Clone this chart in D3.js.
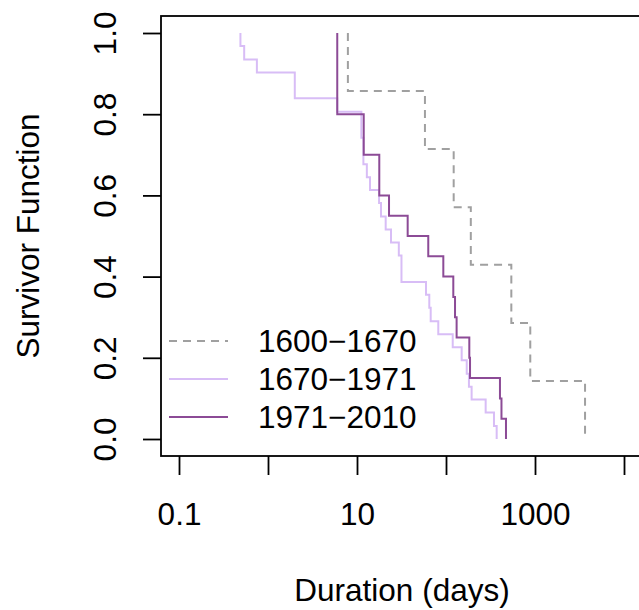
<!DOCTYPE html>
<html>
<head>
<meta charset="utf-8">
<script src="https://cdn.jsdelivr.net/npm/d3@7"></script>
<style>
  body { margin: 0; background: #fff; }
  text { font-family: "Liberation Sans", Arial, sans-serif; }
</style>
</head>
<body>
<div id="chart"></div>
<script>
// event times (days) and survivor value after each event
const groups = ['1600\u22121670', '1670\u22121971', '1971\u22122010']

const timesA = [7.9, 58, 122, 190, 542, 885, 3650]
const survA = [0.857, 0.714, 0.571, 0.429, 0.286, 0.143, 0]

const timesB = [0.49, 0.54, 0.75, 2.0, 6.0, 11.2, 11.8, 12.9, 14.0, 17.7, 18.6, 21.0, 24.1,
  29.5, 31.6, 59.6, 64.9, 67.3, 81.9, 119, 150, 171, 181, 194, 279, 346, 371]
const survB = [0.968, 0.935, 0.903, 0.839, 0.806, 0.742, 0.677, 0.645, 0.613, 0.581, 0.548,
  0.516, 0.484, 0.452, 0.387, 0.355, 0.323, 0.290, 0.258, 0.226, 0.194, 0.161, 0.129,
  0.097, 0.065, 0.032, 0]

const timesC = [6.0, 11.9, 17.8, 22.9, 37.1, 63.2, 93.3, 120.8, 126.3, 131.6, 182.8, 186.2, 404, 420, 472]
const survC = [0.8, 0.7, 0.6, 0.55, 0.5, 0.45, 0.4, 0.35, 0.3, 0.25, 0.2, 0.15, 0.1, 0.05, 0]

const xTicks = [0.1, 1, 10, 100, 1000, 10000]
const xTickLabels = ['0.1', '', '10', '', '1000', '']
const yTicks = [0, 0.2, 0.4, 0.6, 0.8, 1]
const yTickLabels = ['0.0', '0.2', '0.4', '0.6', '0.8', '1.0']

const W = 639
const H = 610
const box = { left: 161, top: 16, right: 643, bottom: 456 }
const fontSize = 31.5

const svg = d3.select('#chart')
  .append('svg')
  .attr('width', W)
  .attr('height', H)

const x = d3.scaleLog()
  .domain([0.1, 10000])
  .range([179, 624])

const y = d3.scaleLinear()
  .domain([0, 1])
  .range([439, 33])

const stepLine = d3.line()
  .x(d => x(d[0]))
  .y(d => y(d[1]))
  .curve(d3.curveStepAfter)

const series = [
  { name: groups[0], times: timesA, surv: survA, color: '#a0a0a0', dash: '8,6' },
  { name: groups[1], times: timesB, surv: survB, color: '#d8bdf6', dash: null },
  { name: groups[2], times: timesC, surv: survC, color: '#8c4b96', dash: null }
]

// curves
series.forEach(s => {
  const pts = [[s.times[0], 1]].concat(s.times.map((t, i) => [t, s.surv[i]]))
  svg.append('path')
    .datum(pts)
    .attr('d', stepLine)
    .attr('fill', 'none')
    .attr('stroke', s.color)
    .attr('stroke-width', 2)
    .attr('stroke-dasharray', s.dash)
})

// box
svg.append('rect')
  .attr('x', box.left)
  .attr('y', box.top)
  .attr('width', box.right - box.left)
  .attr('height', box.bottom - box.top)
  .attr('fill', 'none')
  .attr('stroke', '#000')
  .attr('stroke-width', 1.8)

// x axis
const gx = svg.append('g')
  .attr('transform', 'translate(0,' + box.bottom + ')')
  .call(d3.axisBottom(x)
    .tickValues(xTicks)
    .tickSize(19)
    .tickFormat((d, i) => xTickLabels[i]))
gx.select('.domain').remove()
gx.selectAll('line').attr('stroke', '#000').attr('stroke-width', 1.8)
gx.selectAll('text')
  .attr('y', 69)
  .attr('dy', 0)
  .attr('fill', '#000')
  .style('font-size', fontSize + 'px')

// y axis
const gy = svg.append('g')
  .attr('transform', 'translate(' + box.left + ',0)')
  .call(d3.axisLeft(y)
    .tickValues(yTicks)
    .tickSize(18)
    .tickFormat((d, i) => yTickLabels[i]))
gy.select('.domain').remove()
gy.selectAll('line').attr('stroke', '#000').attr('stroke-width', 1.8)
gy.selectAll('text')
  .attr('x', 0)
  .attr('y', 0)
  .attr('dy', 0)
  .attr('transform', 'translate(-45,0) rotate(-90)')
  .attr('text-anchor', 'middle')
  .attr('fill', '#000')
  .style('font-size', fontSize + 'px')

// axis titles
svg.append('text')
  .attr('x', (box.left + box.right) / 2)
  .attr('y', 601)
  .attr('text-anchor', 'middle')
  .style('font-size', fontSize + 'px')
  .text('Duration (days)')

svg.append('text')
  .attr('transform', 'translate(39,' + y(0.5) + ') rotate(-90)')
  .attr('text-anchor', 'middle')
  .style('font-size', fontSize + 'px')
  .text('Survivor Function')

// legend
const legend = svg.append('g')
series.forEach((s, i) => {
  const ly = 341 + i * 38
  legend.append('line')
    .attr('x1', 169)
    .attr('x2', 228)
    .attr('y1', ly)
    .attr('y2', ly)
    .attr('stroke', s.color)
    .attr('stroke-width', 2)
    .attr('stroke-dasharray', s.dash)
  legend.append('text')
    .attr('x', 258)
    .attr('y', ly + 11)
    .style('font-size', fontSize + 'px')
    .text(s.name)
})
</script>
</body>
</html>
